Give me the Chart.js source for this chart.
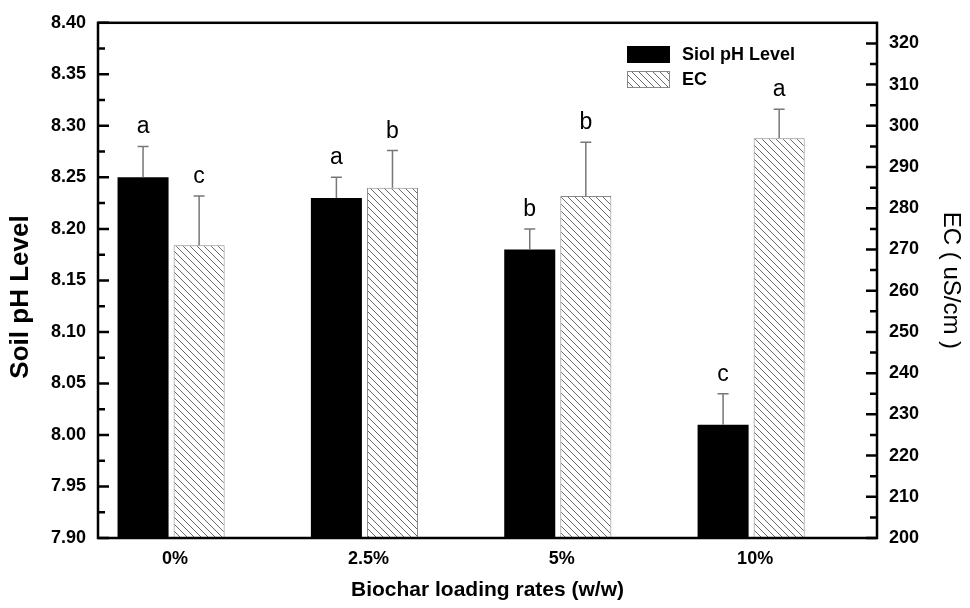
<!DOCTYPE html>
<html>
<head>
<meta charset="utf-8">
<script src="https://cdn.jsdelivr.net/npm/chart.js@4.4.1/dist/chart.umd.min.js"></script>
<style>
  body { margin: 0; background: #fff; }
  #wrap { width: 970px; height: 608px; }
</style>
</head>
<body>
<div id="wrap"><canvas id="chart"></canvas></div>
<script>
// Data
const categories = ['0%', '2.5%', '5%', '10%'];
const xPositions = [1, 2, 3, 4];
const phValues = [8.25, 8.23, 8.18, 8.01];
const phErrors = [0.03, 0.02, 0.02, 0.03];
const phLetters = ['a', 'a', 'b', 'c'];
const ecValues = [271, 285, 283, 297];
const ecErrors = [12, 9, 13, 7];
const ecLetters = ['c', 'b', 'b', 'a'];
const phTicks = [7.90, 7.95, 8.00, 8.05, 8.10, 8.15, 8.20, 8.25, 8.30, 8.35, 8.40];
const ecTicks = [200, 210, 220, 230, 240, 250, 260, 270, 280, 290, 300, 310, 320];

const FONT = '"Liberation Sans", Arial, Helvetica, sans-serif';
Chart.defaults.font.family = FONT;
Chart.defaults.color = '#000';

// diagonal hatch for the EC bars
function makeHatch() {
    const size = 7;
    const c = document.createElement('canvas');
    c.width = size;
    c.height = size;
    const g = c.getContext('2d');
    g.fillStyle = '#fff';
    g.fillRect(0, 0, size, size);
    g.strokeStyle = '#6a6a6a';
    g.lineWidth = 1;
    g.beginPath();
    g.moveTo(-1, -1); g.lineTo(size + 1, size + 1);
    g.moveTo(-1, size - 1); g.lineTo(1, size + 1);
    g.moveTo(size - 1, -1); g.lineTo(size + 1, 1);
    g.stroke();
    return g.createPattern(c, 'repeat');
}
const hatch = makeHatch();

// error bars, letters, frame, inward ticks, left title and legend
const decorPlugin = {
    id: 'decor',
    afterDatasetsDraw(chart) {
        const ctx = chart.ctx;
        const sets = [
            { meta: chart.getDatasetMeta(0), vals: phValues, errs: phErrors, letters: phLetters, scale: chart.scales.y },
            { meta: chart.getDatasetMeta(1), vals: ecValues, errs: ecErrors, letters: ecLetters, scale: chart.scales.y2 }
        ];
        ctx.save();
        sets.forEach(s => {
            s.meta.data.forEach((bar, i) => {
                const top = s.scale.getPixelForValue(s.vals[i]);
                const errTop = s.scale.getPixelForValue(s.vals[i] + s.errs[i]);
                ctx.strokeStyle = '#777';
                ctx.lineWidth = 1.5;
                ctx.beginPath();
                ctx.moveTo(bar.x, top);
                ctx.lineTo(bar.x, errTop);
                ctx.moveTo(bar.x - 5.5, errTop);
                ctx.lineTo(bar.x + 5.5, errTop);
                ctx.stroke();

                ctx.fillStyle = '#000';
                ctx.font = '23px ' + FONT;
                ctx.textAlign = 'center';
                ctx.textBaseline = 'alphabetic';
                ctx.fillText(s.letters[i], bar.x, errTop - 13);
            });
        });
        ctx.restore();
    },
    afterDraw(chart) {
        const ctx = chart.ctx;
        const area = chart.chartArea;
        const yL = chart.scales.y;
        const yR = chart.scales.y2;
        ctx.save();

        // ticks pointing into the plot
        ctx.strokeStyle = '#000';
        ctx.lineWidth = 2.5;
        ctx.beginPath();
        phTicks.forEach((v, i) => {
            const py = yL.getPixelForValue(v);
            ctx.moveTo(area.left, py); ctx.lineTo(area.left + 11, py);
            if (i < phTicks.length - 1) {
                const my = yL.getPixelForValue((v + phTicks[i + 1]) / 2);
                ctx.moveTo(area.left, my); ctx.lineTo(area.left + 7, my);
            }
        });
        ecTicks.forEach((v, i) => {
            const py = yR.getPixelForValue(v);
            ctx.moveTo(area.right, py); ctx.lineTo(area.right - 11, py);
            const my = yR.getPixelForValue(v + 5);
            if (my > area.top + 2) {
                ctx.moveTo(area.right, my); ctx.lineTo(area.right - 7, my);
            }
        });
        ctx.stroke();

        // frame
        ctx.lineWidth = 2.5;
        ctx.strokeRect(area.left, area.top, area.right - area.left, area.bottom - area.top);

        // left axis title (sits a bit below the plot's middle in the original)
        ctx.save();
        ctx.translate(21, 297);
        ctx.rotate(-Math.PI / 2);
        ctx.fillStyle = '#000';
        ctx.font = 'bold 26px ' + FONT;
        ctx.textAlign = 'center';
        ctx.textBaseline = 'middle';
        ctx.fillText('Soil pH Level', 0, 0);
        ctx.restore();

        // legend
        const lx = 627, ly = 46, bw = 43, bh = 17, gap = 25;
        chart.data.datasets.forEach((ds, i) => {
            const y = ly + i * gap;
            ctx.fillStyle = ds.backgroundColor;
            ctx.fillRect(lx, y, bw, bh);
            if (ds.borderWidth) {
                ctx.strokeStyle = ds.borderColor;
                ctx.lineWidth = 1;
                ctx.strokeRect(lx + 0.5, y + 0.5, bw - 1, bh - 1);
            }
            ctx.fillStyle = '#000';
            ctx.font = 'bold 18px ' + FONT;
            ctx.textAlign = 'left';
            ctx.textBaseline = 'middle';
            ctx.fillText(ds.label, lx + 55, y + bh / 2 + 1);
        });
        ctx.restore();
    }
};

const ctx = document.getElementById('chart').getContext('2d');
new Chart(ctx, {
    type: 'bar',
    data: {
        datasets: [{
            label: 'Siol pH Level',
            data: xPositions.map((x, i) => ({ x: x, y: phValues[i] })),
            backgroundColor: '#000',
            borderWidth: 0,
            yAxisID: 'y'
        }, {
            label: 'EC',
            data: xPositions.map((x, i) => ({ x: x, y: ecValues[i] })),
            backgroundColor: hatch,
            borderColor: '#888',
            borderWidth: 1,
            yAxisID: 'y2'
        }]
    },
    options: {
        responsive: true,
        maintainAspectRatio: false,
        animation: false,
        categoryPercentage: 0.58,
        barPercentage: 0.91,
        layout: { padding: { top: 22, left: 0, right: 0, bottom: 0 } },
        plugins: {
            legend: { display: false },
            tooltip: { enabled: false }
        },
        scales: {
            x: {
                type: 'linear',
                min: 0.622,
                max: 4.651,
                offset: false,
                grid: { display: false, drawTicks: false },
                border: { display: false },
                afterBuildTicks: scale => { scale.ticks = xPositions.map(v => ({ value: v })); },
                afterFit: scale => { scale.height = 70; },
                ticks: {
                    padding: 10,
                    labelOffset: 4,
                    font: { size: 18, weight: 'bold' },
                    callback: v => categories[xPositions.indexOf(v)]
                },
                title: {
                    display: true,
                    text: 'Biochar loading rates (w/w)',
                    font: { size: 21, weight: 'bold' },
                    padding: { top: 0, bottom: 5 }
                }
            },
            y: {
                position: 'left',
                min: 7.9,
                max: 8.4,
                grid: { display: false, drawTicks: false },
                border: { display: false },
                afterBuildTicks: scale => { scale.ticks = phTicks.map(v => ({ value: v })); },
                afterFit: scale => { scale.width = 98; },
                ticks: {
                    padding: 12,
                    font: { size: 18, weight: 'bold' },
                    callback: v => Number(v).toFixed(2)
                }
            },
            y2: {
                position: 'right',
                min: 200,
                max: 325,
                grid: { display: false, drawTicks: false },
                border: { display: false },
                afterBuildTicks: scale => { scale.ticks = ecTicks.map(v => ({ value: v })); },
                afterFit: scale => { scale.width = 93; },
                ticks: {
                    padding: 12,
                    font: { size: 18, weight: 'bold' }
                },
                title: {
                    display: true,
                    text: 'EC ( uS/cm )',
                    font: { size: 24, weight: 'normal' },
                    padding: { top: 5, bottom: 0 }
                }
            }
        }
    },
    plugins: [decorPlugin]
});
</script>
</body>
</html>
